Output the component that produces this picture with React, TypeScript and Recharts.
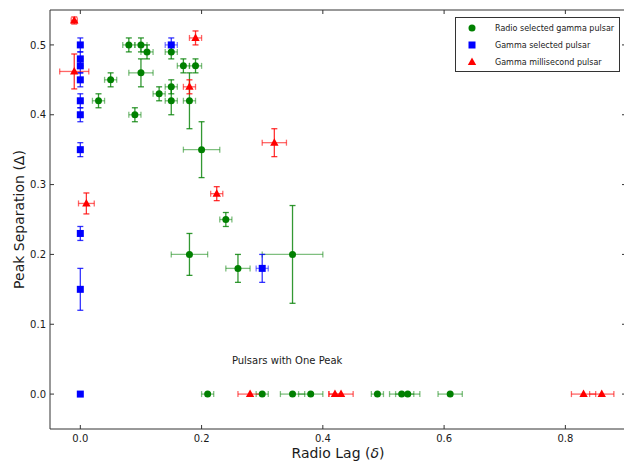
import React from 'react';
import {
  ScatterChart,
  Scatter,
  XAxis,
  YAxis,
  ErrorBar,
  ReferenceArea,
  ReferenceDot,
  Legend,
} from 'recharts';

// ---------- data ----------
// Radio selected gamma pulsars (two peaks)
const radioLag = [0.08, 0.10, 0.11, 0.15, 0.17, 0.19, 0.10, 0.05, 0.03, 0.09, 0.13, 0.15, 0.15, 0.18, 0.20, 0.24, 0.18, 0.26, 0.35];
const radioSep = [0.50, 0.50, 0.49, 0.49, 0.47, 0.47, 0.46, 0.45, 0.42, 0.40, 0.43, 0.44, 0.42, 0.42, 0.35, 0.25, 0.20, 0.18, 0.20];
const radioLagErr = [0.01, 0.01, 0.01, 0.01, 0.01, 0.01, 0.02, 0.01, 0.01, 0.01, 0.01, 0.01, 0.01, 0.01, 0.03, 0.01, 0.03, 0.02, 0.05];
const radioSepErr = [0.01, 0.01, 0.01, 0.01, 0.01, 0.01, 0.02, 0.01, 0.01, 0.01, 0.01, 0.01, 0.02, 0.04, 0.04, 0.01, 0.03, 0.02, 0.07];
// Radio selected gamma pulsars (one peak)
const radioOneLag = [0.21, 0.30, 0.35, 0.38, 0.49, 0.53, 0.54, 0.61];
const radioOneLagErr = [0.01, 0.01, 0.02, 0.02, 0.01, 0.02, 0.02, 0.02];

// Gamma selected pulsars
const gammaLag = [0, 0, 0, 0, 0, 0, 0, 0, 0, 0, 0.15, 0.30];
const gammaSep = [0.50, 0.48, 0.47, 0.45, 0.42, 0.40, 0.35, 0.23, 0.15, 0, 0.50, 0.18];
const gammaLagErr = [0, 0, 0, 0, 0, 0, 0, 0, 0, 0, 0.01, 0.01];
const gammaSepErr = [0.01, 0.01, 0.01, 0.01, 0.01, 0.01, 0.01, 0.01, 0.03, 0, 0.01, 0.02];

// Gamma millisecond pulsars
const mspLag = [-0.01, -0.01, 0.19, 0.18, 0.32, 0.225, 0.01, 0.28, 0.42, 0.43, 0.83, 0.86];
const mspSep = [0.535, 0.462, 0.51, 0.44, 0.36, 0.287, 0.273, 0, 0, 0, 0, 0];
const mspLagErr = [0.005, 0.024, 0.01, 0.01, 0.02, 0.01, 0.013, 0.02, 0.01, 0.02, 0.02, 0.02];
const mspSepErr = [0.005, 0.025, 0.01, 0.01, 0.02, 0.01, 0.015, 0, 0, 0, 0, 0];

const xTicks = [0, 0.2, 0.4, 0.6, 0.8];
const yTicks = [0, 0.1, 0.2, 0.3, 0.4, 0.5];
const xDomain: [number, number] = [-0.05, 0.9];
const yDomain: [number, number] = [-0.05, 0.55];

const legendLabels = ['Radio selected gamma pulsar', 'Gamma selected pulsar', 'Gamma millisecond pulsar'];
const annotation = 'Pulsars with One Peak';

// ---------- build tables ----------
const zip = (xs: number[], ys: number[], xe: number[], ye: number[]) =>
  xs.map((x, i) => ({ x, y: ys[i], xerr: xe[i], yerr: ye[i] }));

const greenData = [
  ...zip(radioLag, radioSep, radioLagErr, radioSepErr),
  ...radioOneLag.map((x, i) => ({ x, y: 0, xerr: radioOneLagErr[i], yerr: 0 })),
];
const blueData = zip(gammaLag, gammaSep, gammaLagErr, gammaSepErr);
const redData = zip(mspLag, mspSep, mspLagErr, mspSepErr);

// ---------- layout ----------
const CHART_W = 627;
const CHART_H = 462;
const M_TOP = 10;
const M_RIGHT = 1;
const Y_AXIS_W = 50;
const X_AXIS_H = 33;
const PLOT_LEFT = Y_AXIS_W;
const PLOT_RIGHT = CHART_W - M_RIGHT;
const PLOT_TOP = M_TOP;
const PLOT_BOTTOM = CHART_H - X_AXIS_H;
const TICK_LEN = 4;
const FONT = '"DejaVu Sans", sans-serif';
const INK = '#1a1a1a';
const FRAME = '#333';

const GREEN = '#008000';
const BLUE = '#0000ff';
const RED = '#ff0000';

const CircleShape = (p: any) => <circle cx={p.cx} cy={p.cy} r={3.5} fill={GREEN} />;
const SquareShape = (p: any) => (
  <rect x={p.cx - 3.5} y={p.cy - 3.5} width={7} height={7} fill={BLUE} />
);
const TriShape = (p: any) => (
  <polygon
    points={`${p.cx},${p.cy - 4.5} ${p.cx + 4.2},${p.cy + 3} ${p.cx - 4.2},${p.cy + 3}`}
    fill={RED}
  />
);

const XTick = (props: any) => {
  const { x, y, payload } = props;
  return (
    <g>
      <line x1={x} x2={x} y1={PLOT_BOTTOM} y2={PLOT_BOTTOM - TICK_LEN} stroke={FRAME} />
      <line x1={x} x2={x} y1={PLOT_TOP} y2={PLOT_TOP + TICK_LEN} stroke={FRAME} />
      <text x={x} y={y} dy="0.71em" textAnchor="middle" fontSize={10} fill={INK} fontFamily={FONT}>
        {Number(payload.value).toFixed(1)}
      </text>
    </g>
  );
};

const YTick = (props: any) => {
  const { x, y, payload } = props;
  return (
    <g>
      <line x1={PLOT_LEFT} x2={PLOT_LEFT + TICK_LEN} y1={y} y2={y} stroke={FRAME} />
      <line x1={PLOT_RIGHT} x2={PLOT_RIGHT - TICK_LEN} y1={y} y2={y} stroke={FRAME} />
      <text x={x} y={y} dy="0.36em" textAnchor="end" fontSize={10} fill={INK} fontFamily={FONT}>
        {Number(payload.value).toFixed(1)}
      </text>
    </g>
  );
};

const XLabel = (props: any) => {
  const vb = props.viewBox || { x: PLOT_LEFT, y: PLOT_BOTTOM, width: PLOT_RIGHT - PLOT_LEFT, height: X_AXIS_H };
  return (
    <text
      x={vb.x + vb.width / 2}
      y={vb.y + 29}
      textAnchor="middle"
      fontSize={14}
      fill={INK}
      fontFamily={FONT}
    >
      <tspan>Radio Lag (</tspan>
      <tspan fontStyle="italic">δ</tspan>
      <tspan>)</tspan>
    </text>
  );
};

const YLabel = (props: any) => {
  const vb = props.viewBox || { x: 0, y: PLOT_TOP, width: Y_AXIS_W, height: PLOT_BOTTOM - PLOT_TOP };
  const cx = vb.x + 19;
  const cy = vb.y + vb.height / 2;
  return (
    <text
      x={cx}
      y={cy}
      transform={`rotate(-90 ${cx} ${cy})`}
      textAnchor="middle"
      dominantBaseline="central"
      fontSize={14}
      fill={INK}
      fontFamily={FONT}
    >
      Peak Separation (Δ)
    </text>
  );
};

const AnnotLabel = (props: any) => {
  const vb = props.viewBox || { x: 0, y: 0 };
  return (
    <text x={vb.x} y={vb.y} dy="0.36em" fontSize={10} fill={INK} fontFamily={FONT}>
      {annotation}
    </text>
  );
};

const LegendBox = () => {
  const rows = [11, 28, 45];
  return (
    <svg width={165} height={55} style={{ display: 'block' }}>
      <rect x={0.5} y={0.5} width={164} height={54} fill="#fff" stroke={FRAME} strokeWidth={1} />
      <circle cx={17} cy={rows[0]} r={3.5} fill={GREEN} />
      <rect x={13.5} y={rows[1] - 3.5} width={7} height={7} fill={BLUE} />
      <polygon points={`17,${rows[2] - 4.5} 21.2,${rows[2] + 3} 12.8,${rows[2] + 3}`} fill={RED} />
      {legendLabels.map((t, i) => (
        <text key={t} x={40} y={rows[i]} dy="0.36em" fontSize={8} fill={INK} fontFamily={FONT}>
          {t}
        </text>
      ))}
    </svg>
  );
};

export default function App() {
  return (
    <div
      style={{
        position: 'absolute',
        left: 0,
        top: 0,
        width: 624,
        height: 462,
        overflow: 'hidden',
        background: '#fff',
      }}
    >
      <ScatterChart
        width={CHART_W}
        height={CHART_H}
        margin={{ top: M_TOP, right: M_RIGHT, bottom: 0, left: 0 }}
      >
        <XAxis
          type="number"
          dataKey="x"
          domain={xDomain}
          ticks={xTicks}
          allowDataOverflow
          height={X_AXIS_H}
          axisLine={false}
          tickLine={false}
          tickSize={0}
          tickMargin={6}
          tick={<XTick />}
          label={<XLabel />}
        />
        <YAxis
          type="number"
          dataKey="y"
          domain={yDomain}
          ticks={yTicks}
          allowDataOverflow
          width={Y_AXIS_W}
          axisLine={false}
          tickLine={false}
          tickSize={0}
          tickMargin={4}
          tick={<YTick />}
          label={<YLabel />}
        />
        <ReferenceArea
          x1={xDomain[0]}
          x2={xDomain[1]}
          y1={yDomain[0]}
          y2={yDomain[1]}
          fill="none"
          fillOpacity={0}
          stroke={FRAME}
          strokeWidth={1}
          ifOverflow="visible"
        />
        <Scatter data={greenData} dataKey="y" shape={CircleShape} isAnimationActive={false}>
          <ErrorBar dataKey="xerr" direction="x" width={3} stroke="rgba(0,128,0,0.5)" strokeWidth={1.3} />
          <ErrorBar dataKey="yerr" direction="y" width={3} stroke="rgba(0,128,0,0.8)" strokeWidth={1.3} />
        </Scatter>
        <Scatter data={blueData} dataKey="y" shape={SquareShape} isAnimationActive={false}>
          <ErrorBar dataKey="xerr" direction="x" width={3} stroke="rgba(0,0,255,0.5)" strokeWidth={1.3} />
          <ErrorBar dataKey="yerr" direction="y" width={3} stroke="rgba(0,0,255,0.8)" strokeWidth={1.3} />
        </Scatter>
        <Scatter data={redData} dataKey="y" shape={TriShape} isAnimationActive={false}>
          <ErrorBar dataKey="xerr" direction="x" width={3} stroke="rgba(255,0,0,0.6)" strokeWidth={1.3} />
          <ErrorBar dataKey="yerr" direction="y" width={3} stroke="rgba(255,0,0,0.8)" strokeWidth={1.3} />
        </Scatter>
        <ReferenceDot x={0.25} y={0.048} r={0} fill="none" stroke="none" label={AnnotLabel} />
        <Legend
          layout="vertical"
          align="center"
          verticalAlign="middle"
          wrapperStyle={{ position: 'absolute', left: 455, top: 17, width: 165, height: 55 }}
          content={() => <LegendBox />}
        />
      </ScatterChart>
    </div>
  );
}
